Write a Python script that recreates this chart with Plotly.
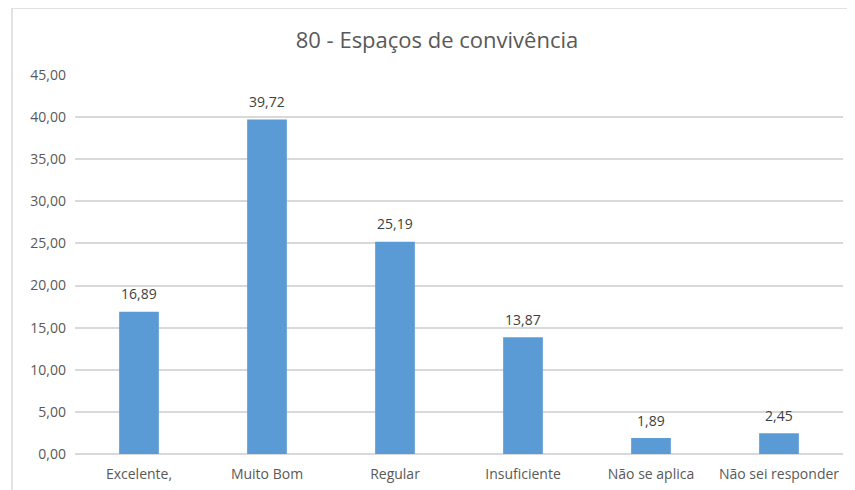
import plotly.graph_objects as go

categories = ["Excelente,", "Muito Bom", "Regular", "Insuficiente", "Não se aplica", "Não sei responder"]
values = [16.89, 39.72, 25.19, 13.87, 1.89, 2.45]
y_ticks = [0, 5, 10, 15, 20, 25, 30, 35, 40, 45]

font_fam = "Open Sans, Liberation Sans, sans-serif"

fig = go.Figure(go.Bar(
    x=categories, y=values,
    marker=dict(color="#5B9BD5", line=dict(width=0)),
    width=0.31,
))

for c, v in zip(categories, values):
    fig.add_annotation(x=c, y=v, text=f"{v:.2f}".replace(".", ","),
                       showarrow=False, yanchor="middle", yshift=18,
                       font=dict(size=14, color="#404040", family=font_fam))

# page body has an 8px margin; margins compensate for it
fig.update_layout(
    width=855, height=490,
    margin=dict(l=67, r=20, t=67, b=44),
    paper_bgcolor="white", plot_bgcolor="white",
    separators=",.",
    showlegend=False,
    title=dict(text="80 - Espaços de convivência", x=429/855, xanchor="center",
               y=1 - 32/490, yanchor="middle",
               font=dict(size=22, color="#595959", family=font_fam)),
    xaxis=dict(showgrid=False, showline=False, ticks="", ticklabelstandoff=10,
               tickfont=dict(size=14, color="#595959", family=font_fam)),
    yaxis=dict(range=[0, 45], tickvals=y_ticks, tickformat=".2f",
               showgrid=True, gridcolor="#D9D9D9", gridwidth=1.5,
               zeroline=True, zerolinecolor="#D9D9D9", zerolinewidth=1.5,
               showline=False, ticks="", ticklabelstandoff=8,
               tickfont=dict(size=14, color="#595959", family=font_fam)),
    shapes=[dict(type="rect", xref="paper", yref="paper",
                 x0=(12 - 75) / 768, x1=1.2, y0=-0.3, y1=1 + (75 - 8) / 379,
                 line=dict(color="#D9D9D9", width=1.5), fillcolor="rgba(0,0,0,0)",
                 layer="below")],
)

fig.write_html("out.html")
